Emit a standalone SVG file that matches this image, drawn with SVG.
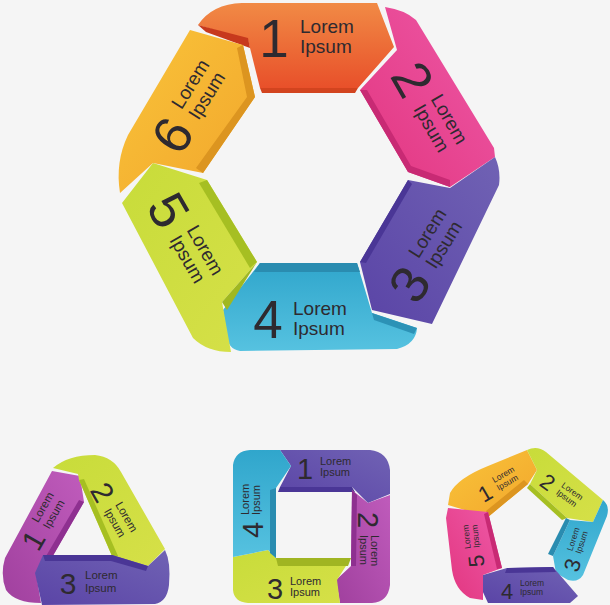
<svg xmlns="http://www.w3.org/2000/svg" width="610" height="605" viewBox="0 0 610 605">
<style>
text{font-family:"Liberation Sans","Arial",sans-serif;fill:#2e2a30}
.d{text-anchor:middle}
.bd{font-size:53px}.bt{font-size:19px}
.td{font-size:30px}.tt{font-size:11.5px}
.sd{font-size:29px}.st{font-size:11px}
.pd{font-size:22px}.pt{font-size:8.5px}
.side{opacity:1}
</style>
<defs>
<linearGradient id="gOr" x1="0" y1="0" x2="0" y2="1"><stop offset="0" stop-color="#f18a45"/><stop offset="1" stop-color="#e8502a"/></linearGradient>
<linearGradient id="gPk" x1="1" y1="0" x2="0" y2="1"><stop offset="0" stop-color="#ee5aa8"/><stop offset="1" stop-color="#e2357f"/></linearGradient>
<linearGradient id="gPu" x1="1" y1="0" x2="0" y2="1"><stop offset="0" stop-color="#7062b4"/><stop offset="1" stop-color="#5a44a6"/></linearGradient>
<linearGradient id="gCy" x1="0" y1="0" x2="0" y2="1"><stop offset="0" stop-color="#30a6cc"/><stop offset="1" stop-color="#56c2e0"/></linearGradient>
<linearGradient id="gLi" x1="0" y1="0" x2="1" y2="1"><stop offset="0" stop-color="#c8dc3a"/><stop offset="1" stop-color="#d6e048"/></linearGradient>
<linearGradient id="gYe" x1="0" y1="0" x2="1" y2="1"><stop offset="0" stop-color="#f9c43a"/><stop offset="1" stop-color="#f2a62c"/></linearGradient>
<linearGradient id="gMa" x1="1" y1="0" x2="0" y2="1"><stop offset="0" stop-color="#c05cbc"/><stop offset="1" stop-color="#a0409e"/></linearGradient>
</defs>
<rect width="610" height="605" fill="#f5f5f5"/>

<!-- Big hexagon -->
<g id="hex-2">
<path d="M385,7 Q405,10 416,20 L494,148 L495,157 L450,187 L408,172 L360,90 L397,50 Z" fill="url(#gPk)"/>
<path d="M360,90 L408,172 L450,187 L450,180 L411,166 L367,90 Z" fill="#c82a74"/>
<g transform="translate(413,79) rotate(60)"><text class="d bd" x="0" y="19">2</text><text class="bt" x="26" y="-5">Lorem</text><text class="bt" x="26" y="15">Ipsum</text></g>
</g>
<g id="hex-1">
<path d="M198,25 Q212,4 242,3 L377,3 L394,47 L358,88 L260,88 L248,40 Z" fill="url(#gOr)"/>
<path d="M198,25 L248,38 L250,48 L206,32 Z" fill="#c7391d"/>
<path d="M260,88 L358,88 L355,93 L262,93 Z" fill="#d2441f"/>
<g transform="translate(274,38)"><text class="d bd" x="0" y="19">1</text><text class="bt" x="26" y="-5">Lorem</text><text class="bt" x="26" y="15">Ipsum</text></g>
</g>
<g id="hex-3">
<path d="M408,180 L450,188 L495,157 Q501,170 499,185 L432,324 L372,310 L360,262 Z" fill="url(#gPu)"/>
<path d="M408,180 L360,262 L366,263 L412,184 Z" fill="#4a3696"/>
<g transform="translate(409,284) rotate(-58)"><text class="d bd" x="0" y="19">3</text><text class="bt" x="26" y="-5">Lorem</text><text class="bt" x="26" y="15">Ipsum</text></g>
</g>
<g id="hex-4">
<path d="M260,263 L357,263 L372,313 L417,328 Q416,344 397,349 L240,351 Q228,349 227,336 L223,310 Z" fill="url(#gCy)"/>
<path d="M260,263 L357,263 L360,272 L254,272 Z" fill="#2a8cb0"/>
<path d="M372,313 L417,328 L414,334 L374,320 Z" fill="#2c92b6"/>
<g transform="translate(268,319)"><text class="d bd" x="0" y="19">4</text><text class="bt" x="25" y="-4">Lorem</text><text class="bt" x="25" y="16">Ipsum</text></g>
</g>
<g id="hex-5">
<path d="M122,203 L153,163 L207,180 L257,262 L222,302 L231,352 Q207,352 193,338 Z" fill="url(#gLi)"/>
<path d="M207,180 L257,262 L250,268 L199,183 Z" fill="#a6bf22"/>
<path d="M257,262 L222,302 L227,310 L252,270 Z" fill="#a0b820"/>
<g transform="translate(169,210) rotate(60)"><text class="d bd" x="0" y="19">5</text><text class="bt" x="26" y="-5">Lorem</text><text class="bt" x="26" y="15">Ipsum</text></g>
</g>
<g id="hex-6">
<path d="M120,193 Q115,162 128,135 L190,30 L243,45 L255,97 L203,173 L153,163 Z" fill="url(#gYe)"/>
<path d="M243,45 L255,97 L203,173 L196,168 L247,97 L237,48 Z" fill="#dc9520"/>
<g transform="translate(172,135) rotate(-58)"><text class="d bd" x="0" y="19">6</text><text class="bt" x="26" y="-5">Lorem</text><text class="bt" x="26" y="15">Ipsum</text></g>
</g>

<!-- Triangle -->
<g id="tri-1">
<path d="M52,471 L80,476 L84,502 L47,566 L36,573 L41,603 Q15,603 6,590 Q0,575 5,558 Z" fill="url(#gMa)"/>
<path d="M84,502 L47,566 L42,563 L79,500 Z" fill="#8e3090"/>
<g transform="translate(33,540) rotate(-60)"><text class="d td" x="0" y="11">1</text><text class="tt" x="17" y="-4">Lorem</text><text class="tt" x="17" y="9">Ipsum</text></g>
</g>
<g id="tri-2">
<path d="M53,468 Q68,455 95,455 Q113,457 121,472 L165,549 L148,566 L112,556 L79,480 L78,474 Z" fill="url(#gLi)"/>
<path d="M79,480 L112,556 L118,556 L84,479 Z" fill="#a6bf22"/>
<g transform="translate(103,492) rotate(60)"><text class="d td" x="0" y="11">2</text><text class="tt" x="17" y="-4">Lorem</text><text class="tt" x="17" y="9">Ipsum</text></g>
</g>
<g id="tri-3">
<path d="M43,555 L112,555 L148,566 L165,550 Q171,562 169,585 Q167,602 155,604 L42,605 L35,573 Z" fill="url(#gPu)"/>
<path d="M43,555 L112,555 L148,566 L146,571 L111,561 L45,561 Z" fill="#4a3696"/>
<g transform="translate(68,583)"><text class="d td" x="0" y="11">3</text><text class="tt" x="17" y="-4">Lorem</text><text class="tt" x="17" y="9">Ipsum</text></g>
</g>

<!-- Square -->
<g id="sq-1">
<path d="M280,450 L370,450 Q388,452 390,470 L390,494 L368,503 L352,487 L280,487 L291,466 Z" fill="url(#gPu)"/>
<path d="M280,487 L352,487 L355,492 L278,492 Z" fill="#4a3696"/>
<g transform="translate(305,468)"><text class="d sd" x="0" y="10.5">1</text><text class="st" x="15" y="-3">Lorem</text><text class="st" x="15" y="8">Ipsum</text></g>
</g>
<g id="sq-2">
<path d="M352,490 L368,503 L390,495 L390,585 Q388,602 372,603 L340,603 L336,580 L351,566 Z" fill="url(#gMa)"/>
<path d="M352,490 L351,566 L356,566 L357,495 Z" fill="#8e3090"/>
<g transform="translate(368,520) rotate(90)"><text class="d sd" x="0" y="10.5">2</text><text class="st" x="15" y="-3">Lorem</text><text class="st" x="15" y="8">Ipsum</text></g>
</g>
<g id="sq-3">
<path d="M233,557 L268,550 L276,558 L351,558 L337,580 L340,603 L248,603 Q234,602 233,590 Z" fill="url(#gLi)"/>
<path d="M276,558 L351,558 L348,566 L278,566 Z" fill="#a0b522"/>
<g transform="translate(275,588)"><text class="d sd" x="0" y="10.5">3</text><text class="st" x="15" y="-3">Lorem</text><text class="st" x="15" y="8">Ipsum</text></g>
</g>
<g id="sq-4">
<path d="M233,465 Q235,451 250,450 L280,450 L291,466 L276,488 L276,558 L268,550 L233,557 Z" fill="url(#gCy)"/>
<path d="M276,488 L276,558 L270,553 L270,490 Z" fill="#2a8cb0"/>
<g transform="translate(252,530) rotate(-90)"><text class="d sd" x="0" y="10.5">4</text><text class="st" x="15" y="-3">Lorem</text><text class="st" x="15" y="8">Ipsum</text></g>
</g>

<!-- Pentagon -->
<g id="pent-1">
<path d="M448,505 L450,493 Q458,478 488,466 L527,450 L537,470 L528,484 L488,517 Z" fill="url(#gYe)"/>
<path d="M528,484 L488,517 L486,511 L524,480 Z" fill="#dc9520"/>
<g transform="translate(485,493) rotate(-30)"><text class="d pd" x="0" y="8">1</text><text class="pt" x="13" y="-4">Lorem</text><text class="pt" x="13" y="5">Ipsum</text></g>
</g>
<g id="pent-2">
<path d="M527,450 Q537,445 546,452 L603,500 L593,522 L567,518 L530,484 L537,470 Z" fill="url(#gLi)"/>
<path d="M530,484 L567,518 L562,520 L527,488 Z" fill="#a6bf22"/>
<g transform="translate(548,482) rotate(36)"><text class="d pd" x="0" y="8">2</text><text class="pt" x="13" y="-4">Lorem</text><text class="pt" x="13" y="5">Ipsum</text></g>
</g>
<g id="pent-3">
<path d="M603,500 Q610,506 607,516 L583,575 Q578,583 568,580 L556,573 L553,556 L570,520 L593,522 Z" fill="url(#gCy)"/>
<path d="M570,520 L553,556 L548,554 L566,518 Z" fill="#2a8cb0"/>
<g transform="translate(572,565) rotate(-72)"><text class="d pd" x="0" y="8">3</text><text class="pt" x="13" y="-4">Lorem</text><text class="pt" x="13" y="5">Ipsum</text></g>
</g>
<g id="pent-4">
<path d="M483,575 L507,568 L553,567 L578,596 L570,603 L488,603 L482,590 Z" fill="url(#gPu)"/>
<path d="M507,568 L553,567 L556,572 L505,573 Z" fill="#4a3696"/>
<g transform="translate(507,591)"><text class="d pd" x="0" y="8">4</text><text class="pt" x="13" y="-5">Lorem</text><text class="pt" x="13" y="4">Ipsum</text></g>
</g>
<g id="pent-5">
<path d="M448,508 L488,512 L502,568 L483,575 L483,600 L470,598 Q455,590 452,570 L446,518 Z" fill="url(#gPk)"/>
<path d="M488,512 L502,568 L497,569 L484,514 Z" fill="#c82a74"/>
<g transform="translate(476,561) rotate(-96)"><text class="d pd" x="0" y="8">5</text><text class="pt" x="13" y="-4">Lorem</text><text class="pt" x="13" y="5">Ipsum</text></g>
</g>
</svg>
